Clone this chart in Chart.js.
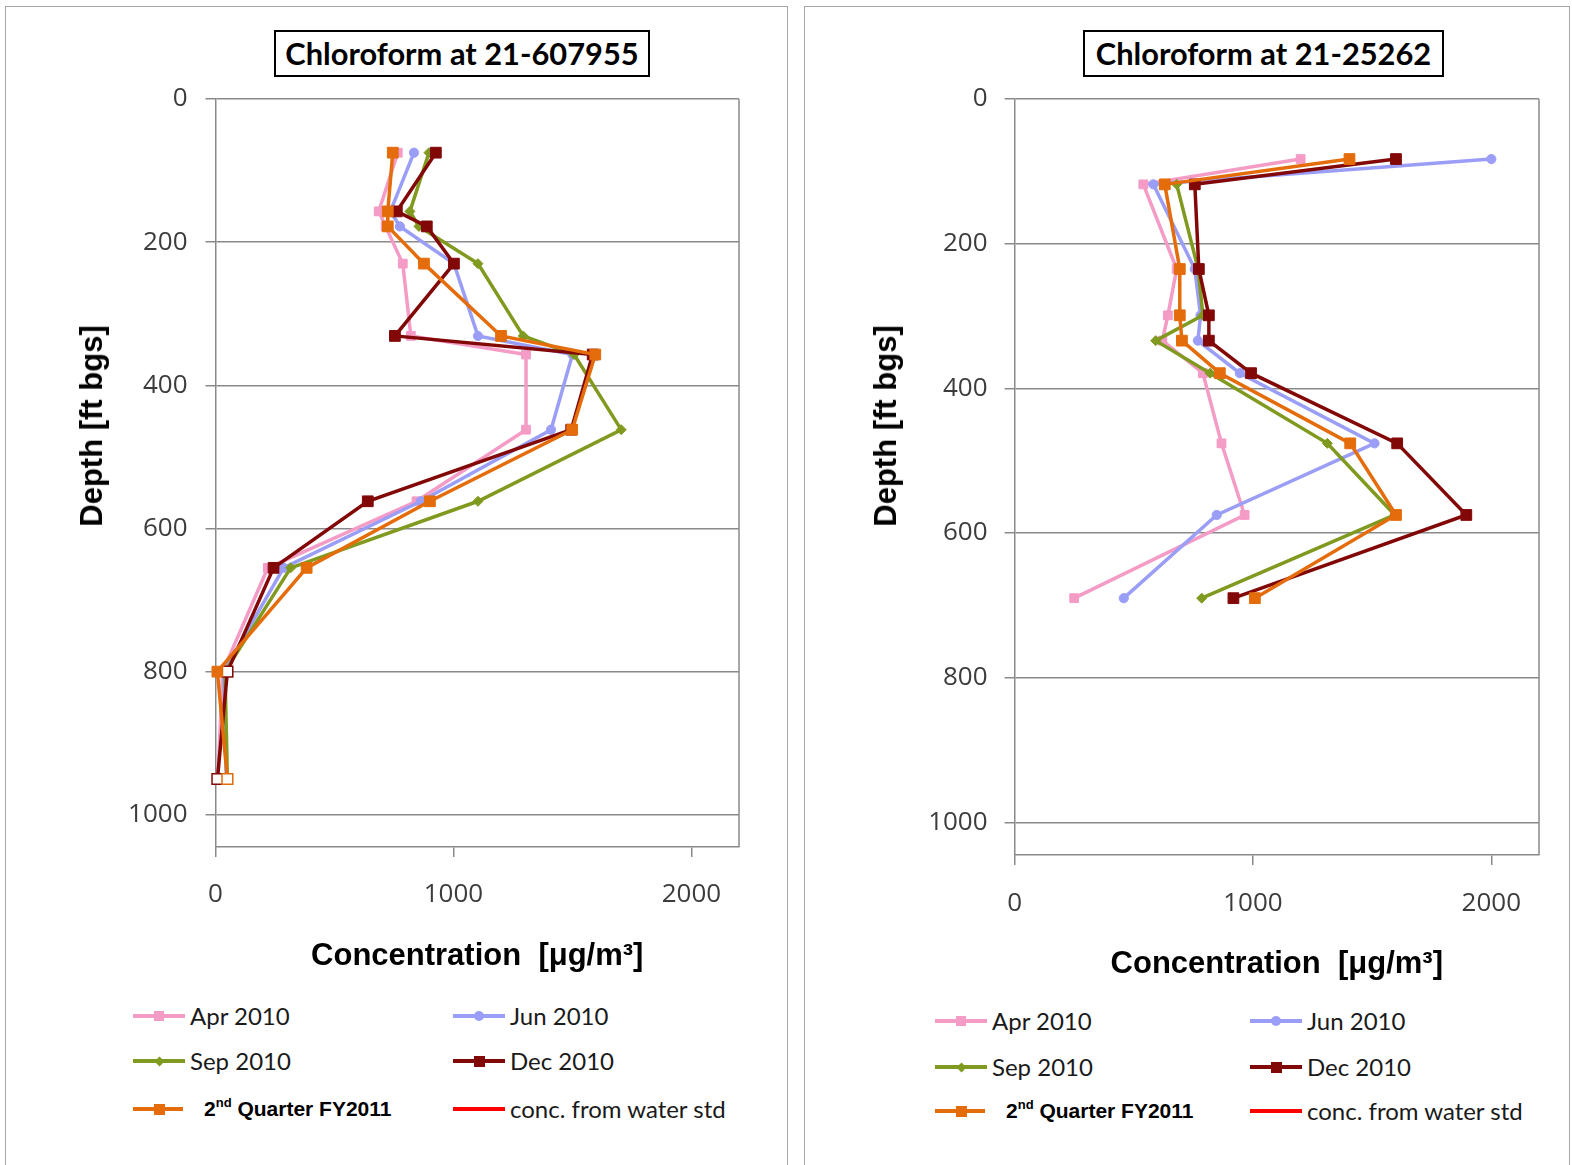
<!DOCTYPE html>
<html><head><meta charset="utf-8">
<script src="https://cdn.jsdelivr.net/npm/chart.js@4.4.0/dist/chart.umd.min.js"></script>
<style>
html,body{margin:0;padding:0;background:#fff;}
#page{position:relative;width:1572px;height:1165px;overflow:hidden;background:#fff;font-family:'Liberation Sans',Arial,sans-serif;}
.panel{position:absolute;top:6px;height:1200px;border:1.5px solid #a6a6a6;box-sizing:border-box;}
canvas{position:absolute;top:0;}
.tbox{position:absolute;top:30px;height:47px;border:2px solid #000;box-sizing:border-box;font-family:Lato,sans-serif;font-weight:700;font-size:30.8px;display:flex;align-items:center;justify-content:center;color:#000;background:#fff;}
.ytitle{position:absolute;font-family:'Liberation Sans',Arial,sans-serif;font-weight:bold;font-size:31px;transform:translate(-50%,-50%) rotate(-90deg);white-space:nowrap;color:#000;}
.leg{position:absolute;height:30px;}
.leg .ln{position:absolute;left:0;top:13px;width:52px;height:4px;}
.leg .mk{position:absolute;}
.leg .tx{position:absolute;left:57px;top:0;line-height:30px;font-family:Lato,sans-serif;font-size:24px;color:#1a1a1a;white-space:nowrap;}
.leg .tx.b{font-family:'Liberation Sans',Arial,sans-serif;font-weight:bold;font-size:21px;left:71px;color:#000;}
.leg .tx.b sup{font-size:13px;vertical-align:9px;line-height:0;}
</style>
</head>
<body>
<div id="page">
  <div class="panel" style="left:5px;width:783px;"></div>
  <div class="panel" style="left:804px;width:766px;"></div>
  <canvas id="c1" width="786" height="1000" style="left:0px;width:786px;height:1000px;"></canvas>
  <canvas id="c2" width="770" height="1000" style="left:800px;width:770px;height:1000px;"></canvas>
  <div class="tbox" style="left:274px;width:376px;">Chloroform at 21-607955</div>
  <div class="tbox" style="left:1083px;width:361px;">Chloroform at 21-25262</div>
  <div class="ytitle" style="left:92px;top:426px;">Depth [ft bgs]</div>
  <div class="ytitle" style="left:886px;top:426px;">Depth [ft bgs]</div>
  <div id="legends"></div>
</div>
<script>
// ---------- data ----------
const seriesNames = ['Apr 2010', 'Jun 2010', 'Sep 2010', 'Dec 2010', '2nd Quarter FY2011', 'conc. from water std'];
const xTickValues = [0, 1000, 2000];
const yTickValues = [0, 200, 400, 600, 800, 1000];

// Chart 1: Chloroform at 21-607955 (depth in ft bgs, concentration in ug/m3)
const leftDepths = [75, 157, 178, 230, 331, 357, 462, 562, 655, 800, 950];
const leftApr = [766, 686, 715, 787, 821, 1305, 1305, 845, 220, 30, 10];
const leftJun = [834, 735, 775, 1002, 1103, 1500, 1410, 863, 286, 35, 45];
const leftSep = [897, 817, 855, 1103, 1293, 1507, 1705, 1103, 316, 40, 50];
const leftDec = [926, 762, 888, 1002, 754, 1585, 1495, 640, 244, 50, 8];
const leftQ2 = [745, 724, 724, 876, 1200, 1596, 1499, 901, 383, 8, 50];
const leftWaterStd = [];
const leftNonDetectDecDepths = [800, 950];
const leftNonDetectQ2Depths = [950];

// Chart 2: Chloroform at 21-25262
const rightDepths = [83, 118, 235, 299, 334, 379, 476, 575, 690];
const rightApr = [1200, 540, 680, 643, 620, 790, 868, 965, 250];
const rightJun = [2000, 582, 756, 780, 769, 945, 1510, 848, 458];
const rightSep = [null, 680, 770, 790, 592, 820, 1312, 1595, 785];
const rightDec = [1600, 756, 773, 815, 815, 992, 1605, 1895, 918];
const rightQ2 = [1405, 630, 693, 693, 702, 861, 1408, 1600, 1008];
const rightWaterStd = [];

// ---------- styles ----------
const COLORS = ['#F49BC6', '#9B9EF7', '#7F9A1E', '#820808', '#E46C0A', '#FF0000'];
const STYLES = [
  {pointStyle: 'rect', radius: 6.2},
  {pointStyle: 'circle', radius: 4.6},
  {pointStyle: 'rectRot', radius: 5},
  {pointStyle: 'rect', radius: 7.6},
  {pointStyle: 'rect', radius: 7.6},
  {pointStyle: false, radius: 0}
];
const ORDER = [5, 4, 3, 2, 1, 6];
const TICK_FONT = {family: 'Open Sans', size: 26};

function pts(xs, ds) {
  return xs.map((v, i) => ({x: v, y: ds[i]})).filter(p => p.x !== null && p.x !== undefined);
}

function makeDataset(idx, data, hollowDepths) {
  const c = COLORS[idx];
  const st = STYLES[idx];
  const hollow = hollowDepths || [];
  return {
    label: seriesNames[idx],
    data: data,
    showLine: true,
    borderColor: c,
    borderWidth: 3.5,
    tension: 0,
    order: ORDER[idx],
    pointStyle: st.pointStyle,
    pointRadius: st.radius,
    pointHoverRadius: st.radius,
    pointBorderColor: c,
    pointBorderWidth: data.map(p => hollow.includes(p.y) ? 1.5 : 1),
    pointBackgroundColor: data.map(p => hollow.includes(p.y) ? '#ffffff' : c),
    clip: 10
  };
}

const frame = {
  id: 'frame',
  beforeDatasetsDraw(chart) {
    const a = chart.chartArea, ctx = chart.ctx;
    ctx.save();
    ctx.strokeStyle = '#8a8a8a';
    ctx.lineWidth = 1.5;
    ctx.beginPath();
    ctx.moveTo(a.right, a.top);
    ctx.lineTo(a.right, a.bottom);
    ctx.stroke();
    ctx.restore();
  }
};

function makeChart(id, datasets, lay) {
  return new Chart(document.getElementById(id), {
    type: 'scatter',
    data: {datasets},
    options: {
      responsive: false,
      animation: false,
      devicePixelRatio: 1,
      events: [],
      layout: {padding: {left: 60, right: lay.right, top: 99, bottom: lay.bottom}},
      plugins: {legend: {display: false}, tooltip: {enabled: false}},
      scales: {
        x: {
          type: 'linear', position: 'bottom', min: 0, max: 2200,
          afterBuildTicks: s => { s.ticks = xTickValues.map(v => ({value: v})); },
          afterFit: s => { s.height = 135; },
          grid: {drawOnChartArea: false, drawTicks: true, tickLength: 10, color: '#8a8a8a', lineWidth: 1.5},
          border: {display: true, color: '#8a8a8a', width: 1.5},
          ticks: {font: TICK_FONT, color: '#3c3c3c', padding: lay.xPad, maxRotation: 0, autoSkip: false,
                  callback: v => String(v)},
          title: {display: true, text: 'Concentration  [μg/m³]', color: '#000',
                  font: {family: 'Liberation Sans', weight: 'bold', size: 31}, padding: {top: 0, bottom: 7}}
        },
        y: {
          type: 'linear', reverse: true, min: 0, max: 1045,
          afterBuildTicks: s => { s.ticks = yTickValues.map(v => ({value: v})); },
          afterFit: s => { s.width = lay.yWidth; },
          grid: {color: '#8a8a8a', lineWidth: 1.5, tickLength: 10},
          border: {display: true, color: '#8a8a8a', width: 1.5},
          ticks: {font: TICK_FONT, color: '#3c3c3c', padding: lay.yPad, callback: v => String(v)}
        }
      }
    },
    plugins: [frame]
  });
}

const leftSets = [
  makeDataset(0, pts(leftApr, leftDepths)),
  makeDataset(1, pts(leftJun, leftDepths)),
  makeDataset(2, pts(leftSep, leftDepths)),
  makeDataset(3, pts(leftDec, leftDepths), leftNonDetectDecDepths),
  makeDataset(4, pts(leftQ2, leftDepths), leftNonDetectQ2Depths),
  makeDataset(5, pts(leftWaterStd, leftDepths))
];
const rightSets = [
  makeDataset(0, pts(rightApr, rightDepths)),
  makeDataset(1, pts(rightJun, rightDepths)),
  makeDataset(2, pts(rightSep, rightDepths)),
  makeDataset(3, pts(rightDec, rightDepths)),
  makeDataset(4, pts(rightQ2, rightDepths)),
  makeDataset(5, pts(rightWaterStd, rightDepths))
];

makeChart('c1', leftSets, {right: 47, bottom: 18, yWidth: 155.5, yPad: 18, xPad: 22});
makeChart('c2', rightSets, {right: 31, bottom: 10, yWidth: 154.6, yPad: 17, xPad: 23});

// ---------- HTML legends ----------
function buildLegend(x1, x2, rows) {
  const host = document.getElementById('legends');
  seriesNames.forEach((name, i) => {
    const col = i % 2, row = Math.floor(i / 2);
    const d = document.createElement('div');
    d.className = 'leg';
    d.style.left = (col === 0 ? x1 : x2) + 'px';
    d.style.top = (rows[row] - 15) + 'px';
    const ln = document.createElement('div');
    ln.className = 'ln';
    ln.style.background = COLORS[i];
    if (i === 4) ln.style.width = '50px';
    d.appendChild(ln);
    const st = STYLES[i];
    if (st.pointStyle) {
      const m = document.createElement('div');
      m.className = 'mk';
      m.style.background = COLORS[i];
      let s = st.pointStyle === 'circle' ? 10 : (st.pointStyle === 'rectRot' ? 7 : (i === 0 ? 10 : 11));
      m.style.width = s + 'px';
      m.style.height = s + 'px';
      m.style.left = (26 - s / 2) + 'px';
      m.style.top = (15 - s / 2) + 'px';
      if (st.pointStyle === 'circle') m.style.borderRadius = '50%';
      if (st.pointStyle === 'rectRot') m.style.transform = 'rotate(45deg)';
      d.appendChild(m);
    }
    const t = document.createElement('div');
    t.className = 'tx' + (i === 4 ? ' b' : '');
    if (i === 4) t.innerHTML = '2<sup>nd</sup> Quarter FY2011';
    else t.textContent = name;
    d.appendChild(t);
    host.appendChild(d);
  });
}
buildLegend(133, 453, [1016, 1061, 1109]);
buildLegend(935, 1250, [1021, 1067, 1111]);
</script>
</body></html>
